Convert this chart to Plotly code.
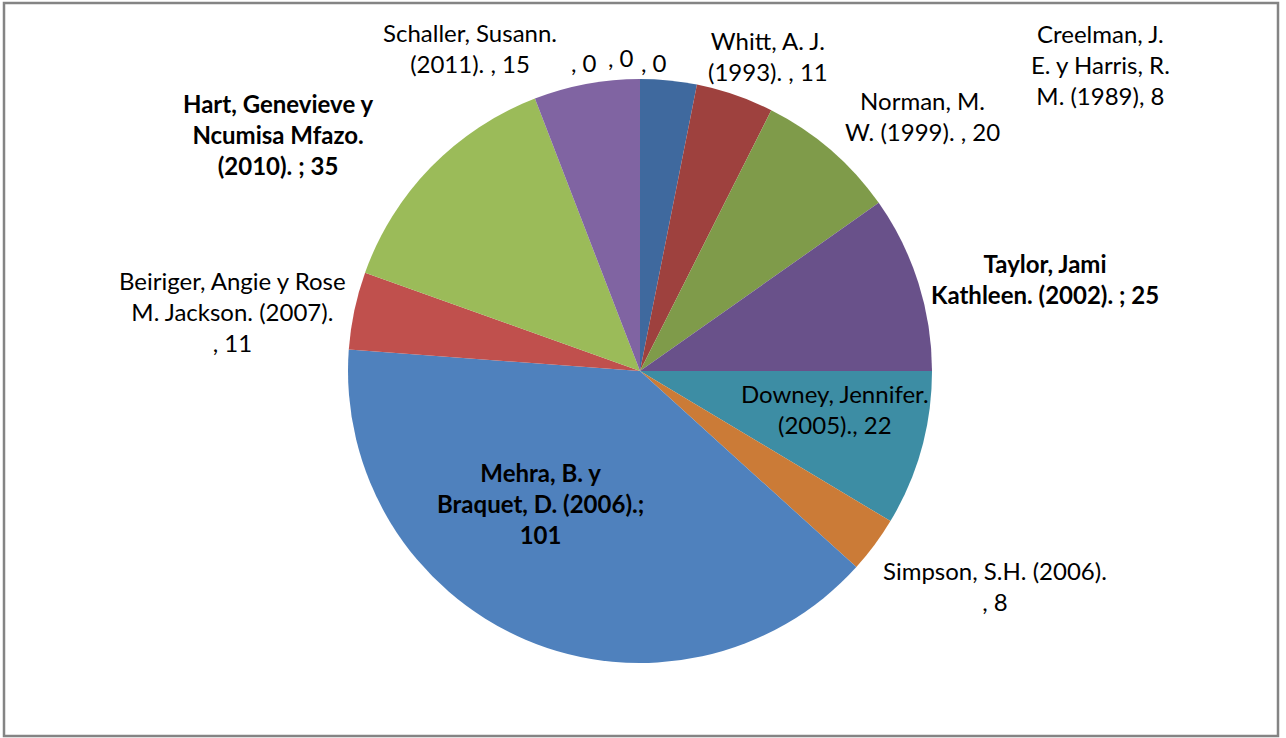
import plotly.graph_objects as go

W, H = 1286, 738

# ---- data ----
authors = [
    "Creelman, J. E. y Harris, R. M. (1989)",
    "Whitt, A. J. (1993).",
    "Norman, M. W. (1999).",
    "Taylor, Jami Kathleen. (2002).",
    "Downey, Jennifer. (2005).",
    "Simpson, S.H. (2006).",
    "Mehra, B. y Braquet, D. (2006).",
    "Beiriger, Angie y Rose M. Jackson. (2007).",
    "Hart, Genevieve y Ncumisa Mfazo. (2010).",
    "Schaller, Susann. (2011).",
    "(vacío 1)",
    "(vacío 2)",
    "(vacío 3)",
]
values = [8, 11, 20, 25, 22, 8, 101, 11, 35, 15, 0, 0, 0]
label_texts = [
    "Creelman, J.<br>E. y Harris, R.<br>M. (1989), 8",
    "Whitt, A. J.<br>(1993). , 11",
    "Norman, M.<br>W. (1999). , 20",
    "<b>Taylor, Jami<br>Kathleen. (2002). ; 25</b>",
    "Downey, Jennifer.<br>(2005)., 22",
    "Simpson, S.H. (2006).<br>, 8",
    "<b>Mehra, B. y<br>Braquet, D. (2006).;<br>101</b>",
    "Beiriger, Angie y Rose<br>M. Jackson. (2007).<br>, 11",
    "<b>Hart, Genevieve y<br>Ncumisa Mfazo.<br>(2010). ; 35</b>",
    "Schaller, Susann.<br>(2011). , 15",
    ", 0",
    ", 0",
    ", 0",
]

# ---- styles ----
colors = ["#3F699E", "#9E413E", "#7F9B4A", "#69518A", "#3D8DA4", "#CB7B37",
          "#4F81BD", "#C0504D", "#9BBB59", "#8064A2", "#4BACC6", "#F79646", "#2C4D75"]
# label centre positions in pixels
label_pos = [(1100, 65), (768, 56), (922, 116), (1045, 279), (835, 409), (995, 586),
             (540, 503), (232, 311), (278, 135), (470, 48), (584, 62), (621, 57), (654, 62)]

cx, cy, r = 640, 371, 292

fig = go.Figure(go.Pie(
    labels=authors,
    values=values,
    sort=False,
    direction="clockwise",
    rotation=0,
    textinfo="none",
    hoverinfo="label+value",
    marker=dict(colors=colors, line=dict(width=0)),
    domain=dict(x=[(cx - r) / W, (cx + r) / W], y=[1 - (cy + r) / H, 1 - (cy - r) / H]),
    showlegend=False,
))

for txt, (px, py) in zip(label_texts, label_pos):
    fig.add_annotation(
        x=px / W, y=1 - py / H, xref="paper", yref="paper",
        text=txt, showarrow=False, xanchor="center", yanchor="middle",
        align="center", font=dict(family="Lato", size=24, color="#000000"),
    )

fig.add_shape(type="rect", xref="paper", yref="paper",
              x0=4 / W, x1=1278 / W, y0=1 - 736 / H, y1=1 - 3 / H,
              line=dict(color="#848484", width=2.5))

fig.update_layout(
    width=W, height=H,
    margin=dict(l=0, r=0, t=0, b=0),
    paper_bgcolor="white", plot_bgcolor="white",
)

fig.write_html("out.html",
               config={"displayModeBar": False},
               post_script="document.body.style.margin='0';document.body.style.overflow='hidden';")
